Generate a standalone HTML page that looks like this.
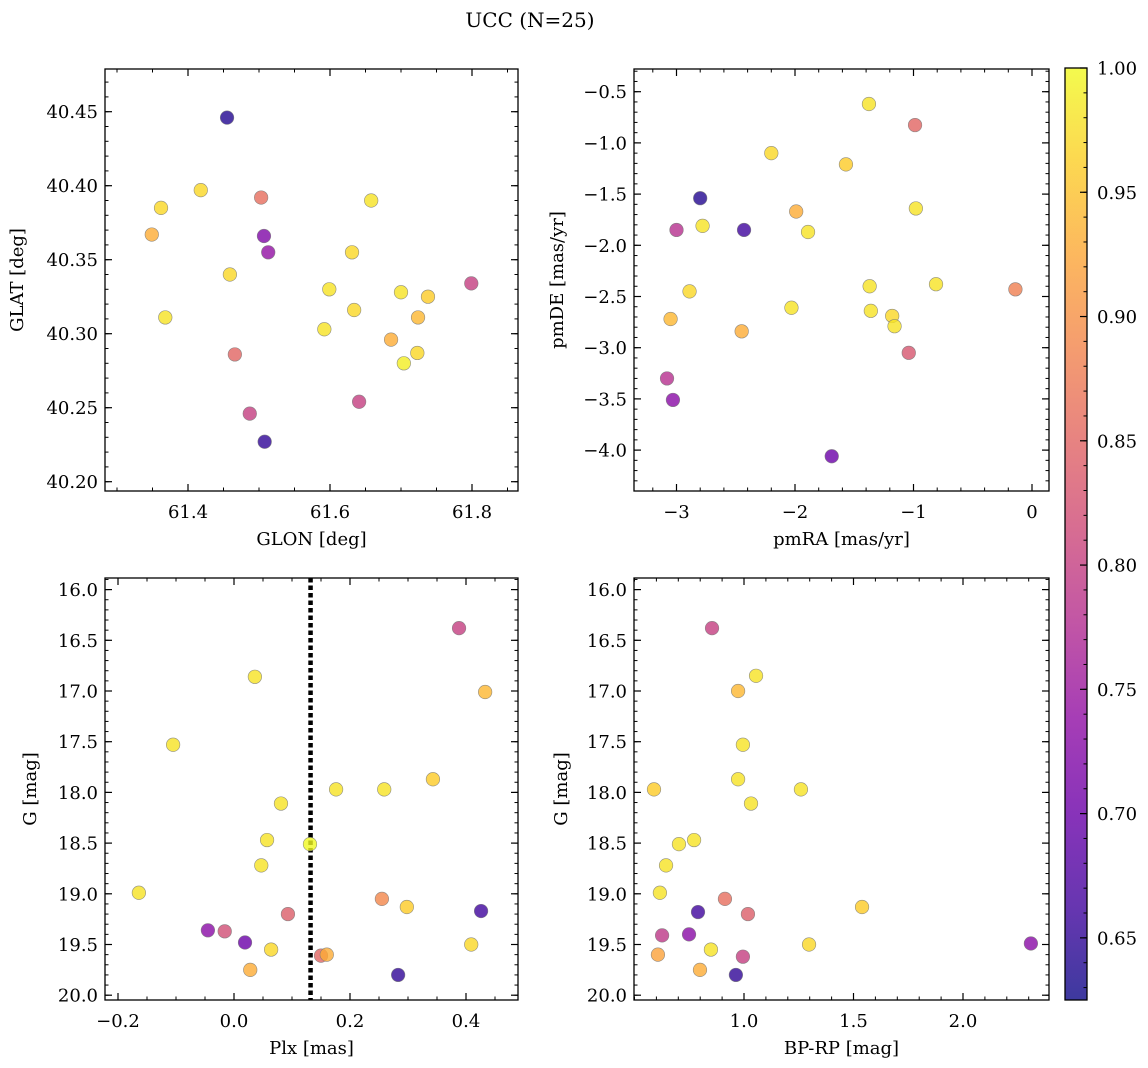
<!DOCTYPE html>
<html><head><meta charset="utf-8"><style>
html,body{margin:0;padding:0;background:#fff;}
svg{display:block;font-family:"DejaVu Serif","Liberation Serif",serif;}
</style></head>
<body>
<svg id="fig" width="1148" height="1068" viewBox="0 0 1148 1068" xmlns="http://www.w3.org/2000/svg">
<text x="530" y="27" font-size="20" text-anchor="middle">UCC (N=25)</text>
</svg>
<script>
// Panel 1: GLON / GLAT
const glon=[61.455,61.418,61.362,61.349,61.503,61.507,61.513,61.658,61.631,61.459,61.599,61.368,61.634,61.592,61.700,61.738,61.799,61.724,61.686,61.466,61.723,61.704,61.487,61.641,61.508];
const glat=[40.446,40.397,40.385,40.367,40.392,40.366,40.355,40.390,40.355,40.340,40.330,40.311,40.316,40.303,40.328,40.325,40.334,40.311,40.296,40.286,40.287,40.280,40.246,40.254,40.227];
const probA=[0.64,0.97,0.97,0.93,0.86,0.72,0.74,0.98,0.97,0.97,0.98,0.98,0.97,0.98,0.98,0.96,0.80,0.94,0.93,0.85,0.97,0.99,0.80,0.80,0.65];
// Panel 2: pmRA / pmDE
const pmra=[-1.376,-0.987,-2.20,-1.57,-2.80,-0.98,-1.99,-3.00,-2.78,-2.43,-1.89,-2.89,-1.37,-0.81,-2.03,-0.14,-1.36,-1.18,-1.16,-3.05,-2.45,-1.04,-3.08,-3.03,-1.69];
const pmde=[-0.62,-0.826,-1.10,-1.21,-1.54,-1.64,-1.67,-1.85,-1.81,-1.85,-1.87,-2.45,-2.40,-2.38,-2.61,-2.43,-2.64,-2.69,-2.79,-2.72,-2.84,-3.05,-3.30,-3.51,-4.06];
const probB=[0.98,0.85,0.97,0.96,0.64,0.98,0.93,0.78,0.98,0.66,0.98,0.97,0.98,0.98,0.98,0.88,0.98,0.97,0.98,0.94,0.93,0.83,0.78,0.73,0.70];
// Panel 3: Plx / G
const plx=[0.388,0.433,0.036,-0.105,0.343,0.081,0.176,0.259,0.057,0.131,0.047,-0.164,0.093,0.255,0.298,0.426,-0.045,-0.016,0.019,0.064,0.409,0.150,0.160,0.028,0.283];
const gC=[16.38,17.01,16.86,17.53,17.87,18.11,17.97,17.97,18.47,18.51,18.72,18.99,19.20,19.05,19.13,19.17,19.36,19.37,19.48,19.55,19.50,19.61,19.60,19.75,19.80];
const probC=[0.80,0.94,0.98,0.98,0.96,0.98,0.98,0.98,0.98,1.0,0.98,0.98,0.84,0.89,0.96,0.66,0.73,0.82,0.70,0.97,0.97,0.85,0.93,0.93,0.65];
// Panel 4: BP-RP / G
const bprp=[0.854,1.055,0.973,0.995,0.973,0.589,1.26,1.032,0.772,0.703,0.644,0.616,0.913,1.539,0.790,1.018,0.626,0.749,2.31,1.297,0.849,0.607,0.995,0.799,0.963];
const gD=[16.38,16.85,17.00,17.53,17.87,17.97,17.97,18.11,18.47,18.51,18.72,18.99,19.05,19.13,19.18,19.20,19.41,19.40,19.49,19.50,19.55,19.60,19.62,19.75,19.80];
const probD=[0.80,0.98,0.94,0.98,0.98,0.96,0.98,0.98,0.98,0.98,0.98,0.98,0.86,0.96,0.66,0.84,0.79,0.73,0.73,0.97,0.98,0.92,0.80,0.93,0.65];
const plxLine=[0.132];
const ticks1x=[61.4,61.6,61.8], ticks1y=[40.20,40.25,40.30,40.35,40.40,40.45];
const ticks2x=[-3,-2,-1,0], ticks2y=[-4.0,-3.5,-3.0,-2.5,-2.0,-1.5,-1.0,-0.5];
const ticks3x=[-0.2,0.0,0.2,0.4], ticksGy=[16.0,16.5,17.0,17.5,18.0,18.5,19.0,19.5,20.0];
const ticks4x=[1.0,1.5,2.0];
const cbTicks=[0.65,0.70,0.75,0.80,0.85,0.90,0.95,1.00];
const VMIN=0.625, VMAX=1.0;
const FS=18;

const NS='http://www.w3.org/2000/svg';
const svg=document.getElementById('fig');
function mk(tag,attrs,parent){const e=document.createElementNS(NS,tag);for(const k in attrs)e.setAttribute(k,attrs[k]);(parent||svg).appendChild(e);return e;}
const stops=[[13,8,135],[65,4,157],[106,0,168],[143,13,164],[177,42,144],[204,71,120],[225,100,98],[242,132,75],[252,166,54],[252,206,37],[240,249,33]];
function plasma(t){t=Math.max(0,Math.min(1,t));const f=t*10,i=Math.min(9,Math.floor(f)),r=f-i;const a=stops[i],b=stops[i+1];
return 'rgb('+[0,1,2].map(k=>Math.round(a[k]+(b[k]-a[k])*r)).join(',')+')';}
function fmt(v,d){const s=Math.abs(v).toFixed(d);return (v<0?'\u2212':'')+s;}

function panel(o){
  const g=mk('g',{});
  
  
  const L=o.L,R=o.R,T=o.T,B=o.B;
  const sx=v=>o.x0+(v-o.xv0)*o.xs, sy=v=>o.y0+(v-o.yv0)*o.ys;
  if(o.vline){o.vline.forEach(v=>{const ln=mk('line',{x1:sx(v),x2:sx(v),y1:T,y2:B,stroke:'#000','stroke-width':4.5,'stroke-dasharray':'4.5,3'},g);
    });}
  for(let i=0;i<o.xd.length;i++){
    const c=mk('circle',{cx:sx(o.xd[i]),cy:sy(o.yd[i]),r:6.8,fill:plasma((o.pd[i]-VMIN)/(VMAX-VMIN)),'fill-opacity':0.8,stroke:'#777','stroke-width':0.6,'stroke-opacity':0.8},g);
    
    
  }
  const fr=mk('rect',{x:L,y:T,width:R-L,height:B-T,fill:'none',stroke:'#000','stroke-width':1.3},g);
  
  const lo=(a,b)=>Math.min(a,b),hi=(a,b)=>Math.max(a,b);
  const xmin=o.xv0+(L-o.x0)/o.xs, xmax=o.xv0+(R-o.x0)/o.xs;
  for(let k=Math.ceil(lo(xmin,xmax)/o.xm-1e-6);k*o.xm<=hi(xmin,xmax)+1e-9;k++){const X=sx(k*o.xm);
    mk('line',{x1:X,x2:X,y1:B,y2:B-3.5,stroke:'#000','stroke-width':1},g);mk('line',{x1:X,x2:X,y1:T,y2:T+3.5,stroke:'#000','stroke-width':1},g);}
  const ya=o.yv0+(T-o.y0)/o.ys, yb=o.yv0+(B-o.y0)/o.ys;
  for(let k=Math.ceil(lo(ya,yb)/o.ym-1e-6);k*o.ym<=hi(ya,yb)+1e-9;k++){const Y=sy(k*o.ym);
    mk('line',{x1:L,x2:L+3.5,y1:Y,y2:Y,stroke:'#000','stroke-width':1},g);mk('line',{x1:R,x2:R-3.5,y1:Y,y2:Y,stroke:'#000','stroke-width':1},g);}
  o.xt.forEach(v=>{const X=sx(v);
    mk('line',{x1:X,x2:X,y1:B,y2:B-7,stroke:'#000','stroke-width':1.2},g);mk('line',{x1:X,x2:X,y1:T,y2:T+7,stroke:'#000','stroke-width':1.2},g);
    const t=mk('text',{x:X,y:B+27,'font-size':FS,'text-anchor':'middle'},g);t.textContent=fmt(v,o.xd_);
    });
  o.yt.forEach(v=>{const Y=sy(v);
    mk('line',{x1:L,x2:L+7,y1:Y,y2:Y,stroke:'#000','stroke-width':1.2},g);mk('line',{x1:R,x2:R-7,y1:Y,y2:Y,stroke:'#000','stroke-width':1.2},g);
    const t=mk('text',{x:L-7,y:Y+6.5,'font-size':FS,'text-anchor':'end'},g);t.textContent=fmt(v,o.yd_);
    });
  const xl=mk('text',{x:(L+R)/2,y:B+54,'font-size':FS,'text-anchor':'middle'},g);xl.textContent=o.xlabel;
  
  const yl=mk('text',{x:o.ylx,y:(T+B)/2,'font-size':FS,'text-anchor':'middle',transform:'rotate(-90 '+o.ylx+' '+(T+B)/2+')'},g);yl.textContent=o.ylabel;
  
}
panel({name:'glon-glat-panel',L:105,R:518,T:69,B:491,x0:188,xv0:61.4,xs:710,y0:111.7,yv0:40.45,ys:-1480,xm:0.05,ym:0.01,xt:ticks1x,yt:ticks1y,xd_:1,yd_:2,xd:glon,yd:glat,pd:probA,xlabel:'GLON [deg]',ylabel:'GLAT [deg]',ylx:23});
panel({name:'pm-panel',L:634,R:1049,T:69,B:491,x0:1032,xv0:0,xs:118.5,y0:91.7,yv0:-0.5,ys:-102.4,xm:0.2,ym:0.1,xt:ticks2x,yt:ticks2y,xd_:0,yd_:1,xd:pmra,yd:pmde,pd:probB,xlabel:'pmRA [mas/yr]',ylabel:'pmDE [mas/yr]',ylx:563});
panel({name:'plx-g-panel',L:105,R:518,T:578,B:1000,x0:234,xv0:0,xs:580,y0:589.6,yv0:16,ys:101.4,xm:0.05,ym:0.1,xt:ticks3x,yt:ticksGy,xd_:1,yd_:1,xd:plx,yd:gC,pd:probC,vline:plxLine,xlabel:'Plx [mas]',ylabel:'G [mag]',ylx:36});
panel({name:'cmd-panel',L:634,R:1049,T:578,B:1000,x0:744,xv0:1,xs:219,y0:589.6,yv0:16,ys:101.4,xm:0.1,ym:0.1,xt:ticks4x,yt:ticksGy,xd_:1,yd_:1,xd:bprp,yd:gD,pd:probD,xlabel:'BP-RP [mag]',ylabel:'G [mag]',ylx:567});

const defs=mk('defs',{});const lg=mk('linearGradient',{id:'cbg',x1:0,y1:1,x2:0,y2:0},defs);
for(let i=0;i<=10;i++)mk('stop',{offset:i/10,'stop-color':plasma(i/10)},lg);
const CT=68,CB=1000,CL=1065,CR=1087;
const cb=mk('g',{});
mk('rect',{x:CL,y:CT,width:CR-CL,height:CB-CT,fill:'url(#cbg)','fill-opacity':0.8},cb);
mk('rect',{x:CL,y:CT,width:CR-CL,height:CB-CT,fill:'none',stroke:'#000','stroke-width':1.3},cb);
const cy=v=>CB-(v-VMIN)/(VMAX-VMIN)*(CB-CT);
for(let k=63;k<=100;k++){const Y=cy(k/100);mk('line',{x1:CR,x2:CR-3.5,y1:Y,y2:Y,stroke:'#000','stroke-width':1},cb);}
cbTicks.forEach(v=>{const Y=cy(v);mk('line',{x1:CR,x2:CR-7,y1:Y,y2:Y,stroke:'#000','stroke-width':1.2},cb);
  const t=mk('text',{x:CR+10,y:Y+6.5,'font-size':FS},cb);t.textContent=v.toFixed(2);
  });
</script>
</body></html>
